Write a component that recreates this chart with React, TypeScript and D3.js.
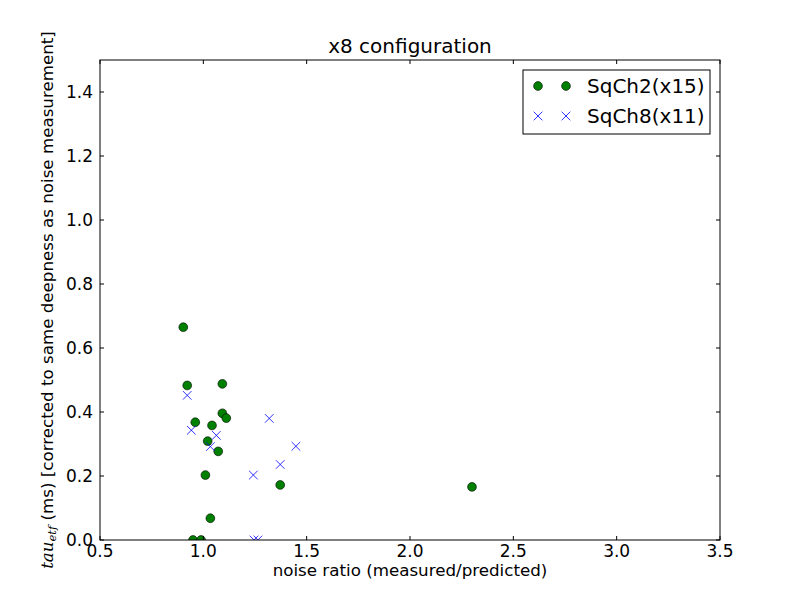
import * as d3 from "d3";

// SqCh2 (x15) points
const sqch2X = [0.903, 0.922, 1.092, 1.092, 1.111, 0.961, 1.042, 1.021, 1.072, 1.010, 1.372, 1.034, 0.950, 0.989, 2.30];
const sqch2Y = [0.665, 0.483, 0.488, 0.396, 0.381, 0.368, 0.358, 0.309, 0.277, 0.203, 0.172, 0.068, 0.0, 0.0, 0.166];

// SqCh8 (x11) points
const sqch8X = [0.922, 0.942, 1.063, 1.034, 1.319, 1.448, 1.372, 1.242, 1.245, 1.264];
const sqch8Y = [0.452, 0.343, 0.327, 0.292, 0.380, 0.293, 0.236, 0.203, 0.0, 0.0];

const xTicks = [0.5, 1.0, 1.5, 2.0, 2.5, 3.0, 3.5];
const yTicks = [0.0, 0.2, 0.4, 0.6, 0.8, 1.0, 1.2, 1.4];
const legendLabels = ["SqCh2(x15)", "SqCh8(x11)"];

const W = 800;
const H = 600;
const left = 100, right = 720, top = 60, bottom = 540;
const font = "'DejaVu Sans', sans-serif";

export default function App() {
  const x = d3.scaleLinear().domain([0.5, 3.5]).range([left, right]);
  const y = d3.scaleLinear().domain([0, 1.5]).range([bottom, top]);
  const xs = 4.3;

  const cross = (cx: number, cy: number, s: number) =>
    `M${cx - s},${cy - s}L${cx + s},${cy + s}M${cx - s},${cy + s}L${cx + s},${cy - s}`;

  return (
    <svg width={W} height={H} style={{ position: "absolute", left: 0, top: 0, background: "#fff" }} fontFamily={font}>
      <rect x={0} y={0} width={W} height={H} fill="#fff" />
      <defs>
        <clipPath id="plot">
          <rect x={left} y={top} width={right - left} height={bottom - top} />
        </clipPath>
      </defs>

      <g clipPath="url(#plot)">
        {sqch2X.map((v, i) => (
          <circle key={"g" + i} cx={x(v)} cy={y(sqch2Y[i])} r={4.4} fill="#008000" stroke="#000" strokeWidth={0.6} />
        ))}
        {sqch8X.map((v, i) => (
          <path key={"b" + i} d={cross(x(v), y(sqch8Y[i]), xs)} stroke="#0000ff" strokeWidth={0.8} fill="none" />
        ))}
      </g>

      {/* ticks */}
      {xTicks.map((t) => (
        <g key={"x" + t}>
          <line x1={x(t)} x2={x(t)} y1={bottom} y2={bottom - 4} stroke="#000" />
          <line x1={x(t)} x2={x(t)} y1={top} y2={top + 4} stroke="#000" />
          <text x={x(t)} y={557} textAnchor="middle" fontSize={17}>{t.toFixed(1)}</text>
        </g>
      ))}
      {yTicks.map((t) => (
        <g key={"y" + t}>
          <line x1={left} x2={left + 4} y1={y(t)} y2={y(t)} stroke="#000" />
          <line x1={right} x2={right - 4} y1={y(t)} y2={y(t)} stroke="#000" />
          <text x={left - 7} y={y(t) + 6} textAnchor="end" fontSize={17}>{t.toFixed(1)}</text>
        </g>
      ))}

      <rect x={left} y={top} width={right - left} height={bottom - top} fill="none" stroke="#000" strokeWidth={1} />

      {/* legend */}
      <rect x={523} y={70} width={187} height={64} fill="#fff" stroke="#000" strokeWidth={1} />
      {legendLabels.map((lab, i) => {
        const ly = 86 + i * 30;
        return (
          <g key={lab}>
            {i === 0 ? (
              <>
                <circle cx={538} cy={ly} r={4.4} fill="#008000" stroke="#000" strokeWidth={0.6} />
                <circle cx={566} cy={ly} r={4.4} fill="#008000" stroke="#000" strokeWidth={0.6} />
              </>
            ) : (
              <>
                <path d={cross(538, ly, xs)} stroke="#0000ff" strokeWidth={0.8} />
                <path d={cross(566, ly, xs)} stroke="#0000ff" strokeWidth={0.8} />
              </>
            )}
            <text x={587} y={ly + 7} fontSize={20}>{lab}</text>
          </g>
        );
      })}

      <text x={(left + right) / 2} y={53} textAnchor="middle" fontSize={20}>x8 configuration</text>
      <text x={(left + right) / 2} y={576} textAnchor="middle" fontSize={16.7}>noise ratio (measured/predicted)</text>
      <text transform={`translate(53, ${(top + bottom) / 2}) rotate(-90)`} textAnchor="middle" fontSize={16.7}>
        <tspan fontStyle="italic" fontFamily="'DejaVu Serif', serif">tau</tspan>
        <tspan fontStyle="italic" fontFamily="'DejaVu Serif', serif" fontSize={11.5} dy={3}>etf</tspan>
        <tspan dy={-3}> (ms) [corrected to same deepness as noise measurement]</tspan>
      </text>
    </svg>
  );
}
